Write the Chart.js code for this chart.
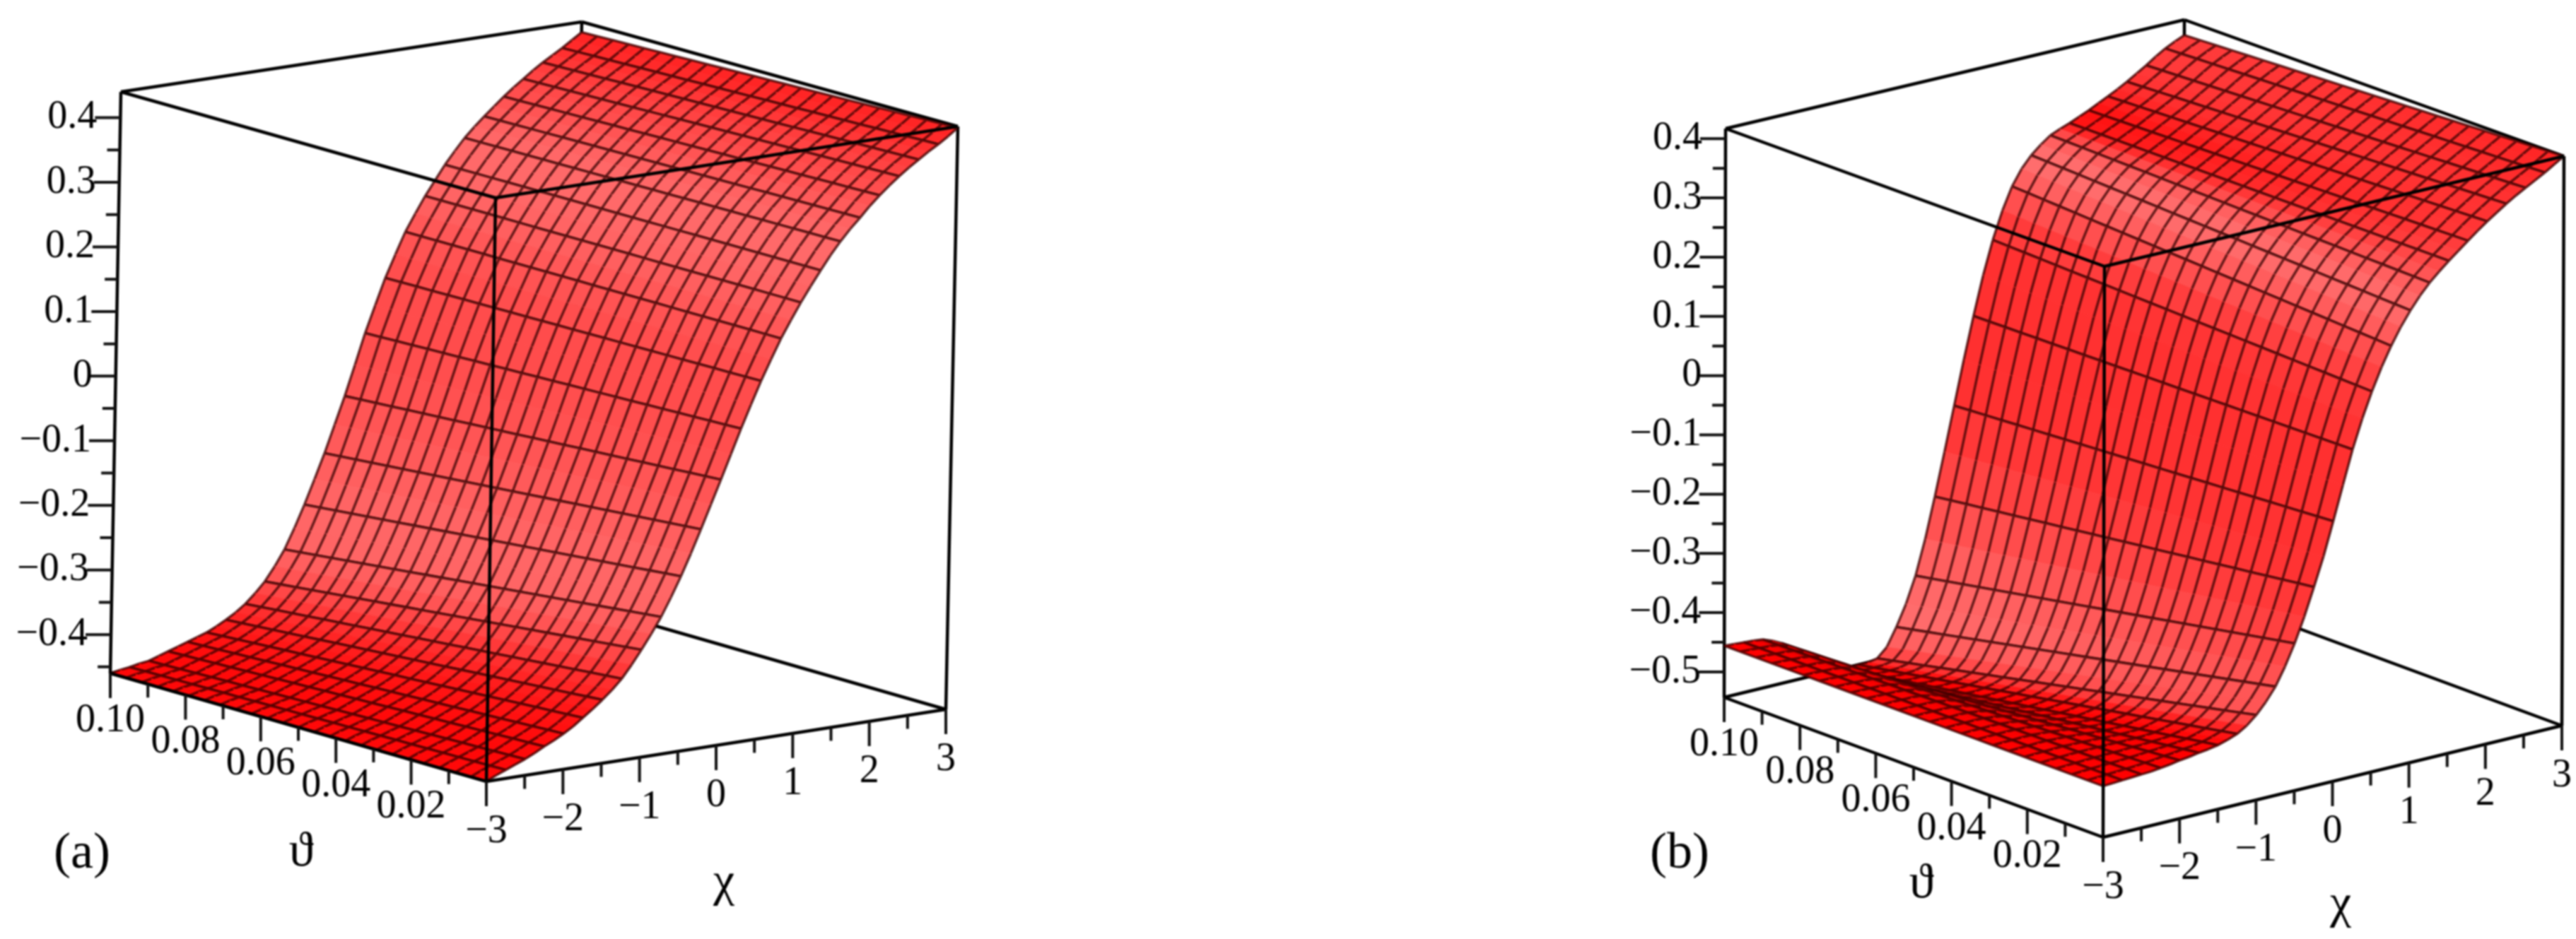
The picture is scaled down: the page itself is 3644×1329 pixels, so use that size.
<!DOCTYPE html>
<html>
<head>
<meta charset="utf-8">
<script src="https://cdn.jsdelivr.net/npm/chart.js@4"></script>
<style>
  html, body { margin: 0; background: #fff; }
  #wrap { display: flex; width: 3644px; height: 1329px; overflow: hidden; }
  canvas { display: block; filter: blur(0.8px); }
</style>
</head>
<body>
<div id="wrap">
  <canvas id="panelA" width="1822" height="1329"></canvas>
  <canvas id="panelB" width="1822" height="1329"></canvas>
</div>
<script>
// surface rows along chi (every second row carries a mesh line) and mesh lines along theta
const chiRows = [-3, -2.875, -2.75, -2.625, -2.5, -2.375, -2.25, -2.125, -2, -1.875, -1.75, -1.625, -1.5, -1.375, -1.25, -1.125,
  -1, -0.875, -0.75, -0.625, -0.5, -0.375, -0.25, -0.125, 0, 0.125, 0.25, 0.375, 0.5, 0.625, 0.75, 0.875,
  1, 1.125, 1.25, 1.375, 1.5, 1.625, 1.75, 1.875, 2, 2.125, 2.25, 2.375, 2.5, 2.625, 2.75, 2.875, 3];
const thetaGrid = [0, 0.00417, 0.00833, 0.0125, 0.01667, 0.02083, 0.025, 0.02917, 0.03333, 0.0375,
  0.04167, 0.04583, 0.05, 0.05417, 0.05833, 0.0625, 0.06667, 0.07083, 0.075, 0.07917, 0.08333,
  0.0875, 0.09167, 0.09583, 0.1];

// panel (a): height along each chi row at theta = 0 and theta = 0.1
const aZFront = [-0.46, -0.453, -0.447, -0.441, -0.435, -0.428, -0.42, -0.413, -0.405, -0.396, -0.385, -0.374, -0.362, -0.349, -0.334, -0.315,
  -0.294, -0.272, -0.248, -0.22, -0.19, -0.157, -0.122, -0.086, -0.05, -0.013, 0.024, 0.059, 0.093, 0.124, 0.154, 0.18,
  0.205, 0.228, 0.25, 0.271, 0.29, 0.307, 0.322, 0.338, 0.352, 0.365, 0.377, 0.388, 0.398, 0.408, 0.417, 0.427, 0.438];
const aZBack = [-0.46, -0.457, -0.455, -0.452, -0.45, -0.445, -0.44, -0.435, -0.43, -0.425, -0.42, -0.413, -0.405, -0.396, -0.385, -0.371,
  -0.355, -0.334, -0.31, -0.279, -0.245, -0.208, -0.17, -0.128, -0.086, -0.04, 0.007, 0.048, 0.088, 0.122, 0.155, 0.181,
  0.206, 0.228, 0.25, 0.269, 0.287, 0.302, 0.316, 0.329, 0.342, 0.354, 0.365, 0.376, 0.386, 0.395, 0.404, 0.414, 0.424];
// panel (b)
const bZFront = [-0.457, -0.456, -0.455, -0.454, -0.453, -0.452, -0.45, -0.448, -0.445, -0.443, -0.44, -0.438, -0.435, -0.43, -0.424, -0.414,
  -0.4, -0.382, -0.36, -0.33, -0.295, -0.254, -0.208, -0.16, -0.105, -0.048, 0.008, 0.056, 0.098, 0.135, 0.167, 0.195,
  0.219, 0.24, 0.258, 0.273, 0.287, 0.3, 0.313, 0.326, 0.338, 0.349, 0.36, 0.37, 0.379, 0.388, 0.397, 0.407, 0.417];
const bZBack = [-0.456, -0.457, -0.458, -0.459, -0.461, -0.467, -0.475, -0.487, -0.5, -0.513, -0.525, -0.534, -0.54, -0.543, -0.543, -0.543,
  -0.54, -0.525, -0.495, -0.46, -0.416, -0.358, -0.29, -0.218, -0.144, -0.07, 0, 0.065, 0.121, 0.167, 0.204, 0.23,
  0.249, 0.263, 0.275, 0.282, 0.288, 0.295, 0.302, 0.31, 0.318, 0.326, 0.335, 0.345, 0.355, 0.366, 0.376, 0.384, 0.391];

// surface lighting, pink amount at each mesh line (negative = darker red)
const aShade = [8, 8, 8, 10, 14, 20, 32, 50, 78, 100, 102, 92, 82, 76, 76, 85, 98, 105, 105, 95, 80, 70, 58, 45, 34];
const bShadeFront = [0, 0, 0, 0, 0, 0, 5, 25, 85, 85, 65, 50, 48, 48, 60, 85, 110, 90, 70, 58, 52, 50, 45, 40, 35];
const bShadeBack = [0, 0, -20, -20, -20, -15, -10, 0, 60, 110, 105, 75, 50, 48, 48, 90, 115, 90, 20, 15, 35, 50, 58, 60, 60];

// axes
const thetaMajor = [0.1, 0.08, 0.06, 0.04, 0.02, 0];
const thetaMinor = [0.09, 0.07, 0.05, 0.03, 0.01];
const thetaLabels = ['0.10', '0.08', '0.06', '0.04', '0.02'];
const chiMajor = [-3, -2, -1, 0, 1, 2, 3];
const chiMinor = [-2.5, -1.5, -0.5, 0.5, 1.5, 2.5];
const chiLabels = ['\u22123', '\u22122', '\u22121', '0', '1', '2', '3'];
const aZMajor = [0.4, 0.3, 0.2, 0.1, 0, -0.1, -0.2, -0.3, -0.4];
const aZLabels = ['0.4', '0.3', '0.2', '0.1', '0', '\u22120.1', '\u22120.2', '\u22120.3', '\u22120.4'];
const aZMinor = [0.35, 0.25, 0.15, 0.05, -0.05, -0.15, -0.25, -0.35, -0.45];
const bZMajor = [0.4, 0.3, 0.2, 0.1, 0, -0.1, -0.2, -0.3, -0.4, -0.5];
const bZLabels = ['0.4', '0.3', '0.2', '0.1', '0', '\u22120.1', '\u22120.2', '\u22120.3', '\u22120.4', '\u22120.5'];
const bZMinor = [0.35, 0.25, 0.15, 0.05, -0.05, -0.15, -0.25, -0.35, -0.45];

// camera: where the box corners land on the chart (b = bottom, t = top)
const viewA = {
  zMin: -0.46, zMax: 0.44,
  lb: [156, 953], lt: [171, 130], fb: [688, 1106], ft: [701, 280],
  rb: [1338, 1004], rt: [1355, 179], bb: [806, 851], bt: [823, 31]
};
const viewB = {
  zMin: -0.543, zMax: 0.417,
  lb: [617, 987], lt: [619, 182], fb: [1153, 1185], ft: [1155, 377],
  rb: [1802, 1027], rt: [1805, 221], bb: [1266, 829], bt: [1268, 28]
};

const FONT = '"Liberation Serif", "Times New Roman", serif';

function mix(a, b, t) { return a + (b - a) * t; }

function project(view, chi, theta, z) {
  const u = (chi + 3) / 6, v = theta / 0.1, w = (z - view.zMin) / (view.zMax - view.zMin);
  const out = {};
  [['x', 0], ['y', 1]].forEach(([key, k]) => {
    const low = mix(mix(view.fb[k], view.rb[k], u), mix(view.lb[k], view.bb[k], u), v);
    const high = mix(mix(view.ft[k], view.rt[k], u), mix(view.lt[k], view.bt[k], u), v);
    out[key] = mix(low, high, w);
  });
  return out;
}

function shadeColor(s) {
  if (s < 0) return 'rgb(' + Math.round(255 + s) + ',0,0)';
  const g = Math.round(s);
  return 'rgb(255,' + g + ',' + g + ')';
}

function lineSet(points, width, color) {
  return { data: points, showLine: true, pointRadius: 0, borderWidth: width, borderColor: color, fill: false, tension: 0 };
}

function buildPanel(id, view, zFront, zBack, shadeFront, shadeBack, zMajor, zMinor, zLabels, texts) {
  const sets = [];
  const gap = { x: NaN, y: NaN };
  const edge = (a, b) => [{ x: view[a][0], y: view[a][1] }, { x: view[b][0], y: view[b][1] }, gap];

  // back of the box goes under the surface
  sets.push(lineSet([...edge('bb', 'lb'), ...edge('bb', 'rb'), ...edge('bb', 'bt'), ...edge('bt', 'lt'),
    ...edge('bt', 'rt'), ...edge('lt', 'lb'), ...edge('rt', 'rb')], 4.5, '#000'));

  const zAt = (i, t) => mix(zFront[i], zBack[i], thetaGrid[t] / 0.1);
  const pt = (i, t) => project(view, chiRows[i], thetaGrid[t], zAt(i, t));
  // shades are given per mesh line, rows in between take the middle
  const shadeAt = (arr, i) => (i % 2 === 0 ? arr[i / 2] : (arr[(i - 1) / 2] + arr[(i + 1) / 2]) / 2);

  // far strips first so the near ones cover them
  for (let i = chiRows.length - 2; i >= 0; i--) {
    const rulings = [];
    for (let t = 0; t < thetaGrid.length - 1; t++) {
      const frac = (t + 0.5) / (thetaGrid.length - 1);
      const s = (mix(shadeAt(shadeFront, i), shadeAt(shadeBack, i), frac) + mix(shadeAt(shadeFront, i + 1), shadeAt(shadeBack, i + 1), frac)) / 2;
      const c = shadeColor(s);
      sets.push({
        data: [pt(i, t), pt(i + 1, t), pt(i + 1, t + 1), pt(i, t + 1), pt(i, t)],
        showLine: true, pointRadius: 0, borderWidth: 1, borderColor: c, backgroundColor: c, fill: 'shape', tension: 0
      });
    }
    for (let t = 0; t < thetaGrid.length; t++) rulings.push(pt(i, t), pt(i + 1, t), gap);
    [i, i + 1].forEach(row => {
      if (row % 2) return;
      for (let t = 0; t < thetaGrid.length; t++) rulings.push(pt(row, t));
      rulings.push(gap);
    });
    sets.push(lineSet(rulings, 3.6, 'rgba(50,0,0,0.72)'));
  }

  // front of the box and the tick marks on top
  sets.push(lineSet([...edge('lt', 'ft'), ...edge('ft', 'rt'), ...edge('ft', 'fb'), ...edge('fb', 'lb'), ...edge('fb', 'rb')], 4.5, '#000'));

  const ticks = [];
  const down = (p, len) => { ticks.push(p, { x: p.x, y: p.y + len }, gap); };
  thetaMajor.forEach(t => down(project(view, -3, t, view.zMin), 35));
  thetaMinor.forEach(t => down(project(view, -3, t, view.zMin), 19));
  chiMajor.forEach(c => down(project(view, c, 0, view.zMin), 35));
  chiMinor.forEach(c => down(project(view, c, 0, view.zMin), 19));
  const left = (p, len) => { ticks.push(p, { x: p.x - len, y: p.y }, gap); };
  zMajor.forEach(z => left(project(view, -3, 0.1, z), 36));
  zMinor.forEach(z => left(project(view, -3, 0.1, z), 18));
  sets.push(lineSet(ticks, 4, '#111'));

  const labelPlugin = {
    id: 'axisText',
    afterDraw(chart) {
      const g = chart.ctx, sx = chart.scales.x, sy = chart.scales.y;
      const put = (s, px, py, size, align) => {
        g.font = size + 'px ' + FONT;
        g.fillStyle = '#000';
        g.textAlign = align || 'center';
        g.textBaseline = 'middle';
        g.fillText(s, sx.getPixelForValue(px), sy.getPixelForValue(py));
      };
      g.save();
      thetaLabels.forEach((s, k) => {
        const p = project(view, -3, thetaMajor[k], view.zMin);
        put(s, p.x, p.y + 67, 56);
      });
      chiLabels.forEach((s, k) => {
        const p = project(view, chiMajor[k], 0, view.zMin);
        put(s, p.x, p.y + 71, 56);
      });
      zLabels.forEach((s, k) => {
        const p = project(view, -3, 0.1, zMajor[k]);
        put(s, p.x - 33, p.y, 56, 'right');
      });
      texts.forEach(t => put(t[0], t[1], t[2], t[3]));
      g.restore();
    }
  };

  new Chart(document.getElementById(id), {
    type: 'scatter',
    data: { datasets: sets.reverse() },   // first dataset is painted last
    options: {
      responsive: false,
      animation: false,
      events: [],
      layout: { padding: 0 },
      plugins: { legend: { display: false }, tooltip: { enabled: false } },
      scales: {
        x: { type: 'linear', min: 0, max: 1822, display: false },
        y: { type: 'linear', min: 0, max: 1329, reverse: true, display: false }
      }
    },
    plugins: [labelPlugin]
  });
}

buildPanel('panelA', viewA, aZFront, aZBack, aShade, aShade, aZMajor, aZMinor, aZLabels,
  [['(a)', 116, 1209, 72], ['\u03D1', 426, 1207, 70], ['\u03C7', 1024, 1250, 68]]);
buildPanel('panelB', viewB, bZFront, bZBack, bShadeFront, bShadeBack, bZMajor, bZMinor, bZLabels,
  [['(b)', 554, 1209, 72], ['\u03D1', 896, 1252, 70], ['\u03C7', 1489, 1281, 68]]);
</script>
</body>
</html>
